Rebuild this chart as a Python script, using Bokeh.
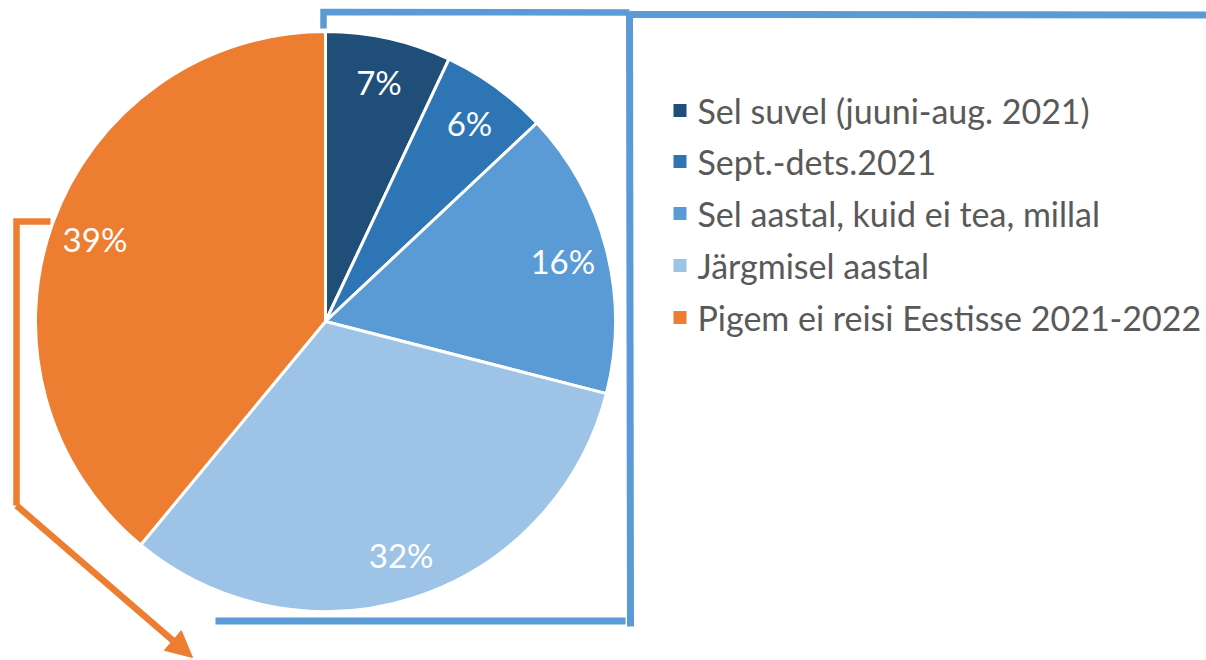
import math
from bokeh.plotting import figure
from bokeh.models import Range1d, Arrow, NormalHead, ColumnDataSource
from bokeh.core.properties import value
from bokeh.embed import file_html
from bokeh.resources import INLINE

categories = [
    "Sel suvel (juuni-aug. 2021)",
    "Sept.-dets.2021",
    "Sel aastal, kuid ei tea, millal",
    "Järgmisel aastal",
    "Pigem ei reisi Eestisse 2021-2022",
]
values = [7, 6, 16, 32, 39]
colors = ["#1F4E79", "#2E75B6", "#5B9BD5", "#9DC3E6", "#ED7D31"]

FONT = "Lato"
H = 660


def Y(v):
    return H - v


p = figure(width=1206, height=660, x_range=Range1d(0, 1206), y_range=Range1d(0, 660),
           output_backend="svg", toolbar_location=None, min_border=0,
           x_axis_type=None, y_axis_type=None)
p.grid.visible = False
p.outline_line_color = None
p.background_fill_color = "white"
p.border_fill_color = "white"

# orange arrow (behind pie)
orange = "#ED7D31"
p.line(x=[50, 16, 16], y=[Y(221), Y(221), Y(505)], line_color=orange, line_width=6.5, line_join="miter")
p.add_layout(Arrow(x_start=16, y_start=Y(505), x_end=192, y_end=Y(657),
                   line_color=orange, line_width=6.5,
                   end=NormalHead(size=26, fill_color=orange, line_color=orange, line_width=1)))

# blue frame
blue = "#5B9BD5"
p.line(x=[323, 323, 629], y=[Y(28), Y(11.5), Y(12)], line_color=blue, line_width=6.5, line_join="miter")
p.line(x=[629, 1206], y=[Y(14), Y(14.5)], line_color=blue, line_width=7)
p.line(x=[629, 630], y=[Y(12), Y(626)], line_color=blue, line_width=7)
p.line(x=[215, 625], y=[Y(620.5), Y(620.5)], line_color=blue, line_width=7)

# pie
cx, cy, R = 325, Y(321), 290
total = sum(values)
cum = [0]
for v in values:
    cum.append(cum[-1] + v)
starts = [math.pi / 2 - 2 * math.pi * c / total for c in cum[:-1]]
ends = [math.pi / 2 - 2 * math.pi * c / total for c in cum[1:]]
src = ColumnDataSource(dict(start=starts, end=ends, color=colors))
p.wedge(x=cx, y=cy, radius=R, start_angle="start", end_angle="end", direction="clock",
        fill_color="color", line_color="white", line_width=3, source=src)

mids = [(s + e) / 2 for s, e in zip(starts, ends)]
lr = 245
lsrc = ColumnDataSource(dict(
    x=[cx + lr * math.cos(a) for a in mids],
    y=[cy + lr * math.sin(a) for a in mids],
    t=[f"{v}%" for v in values]))
p.text(x="x", y="y", text="t", source=lsrc, text_color="white", text_align="center",
       text_baseline="middle", text_font=value(FONT), text_font_size="33px")

# legend
rows = [110, 161, 213, 265, 317]
legsrc = ColumnDataSource(dict(y=[Y(r) for r in rows], t=categories, color=colors))
p.rect(x=679.5, y="y", width=13, height=13, fill_color="color", line_color=None, source=legsrc)
p.text(x=697, y="y", text="t", source=legsrc, text_color="#595959", text_align="left",
       text_baseline="middle", text_font=value(FONT), text_font_size="34px")

open("out.html", "w").write(file_html(p, INLINE))
